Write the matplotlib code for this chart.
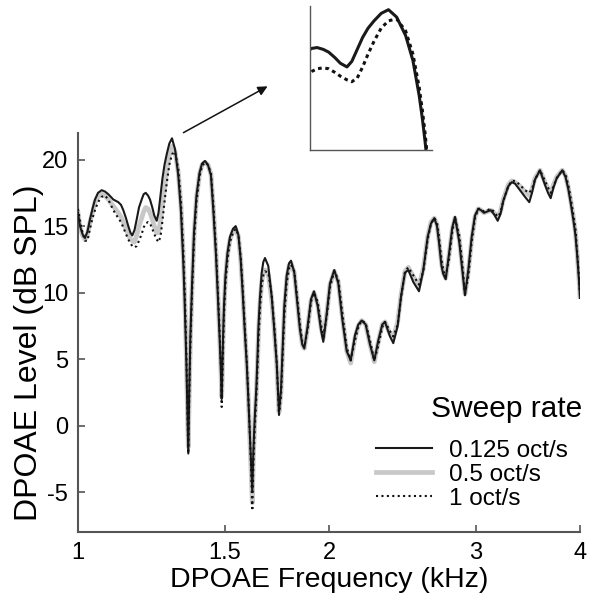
import matplotlib
matplotlib.use("Agg")
import matplotlib.pyplot as plt
from matplotlib.ticker import FixedLocator, NullLocator

plt.rcParams['font.family'] = ['Liberation Sans', 'DejaVu Sans']

# frecuencia DPOAE (kHz), misma rejilla para las tres curvas
freq_khz = [
    1.000, 1.0055, 1.0125, 1.0195, 1.0266, 1.0337, 1.0409, 1.0481, 1.0568, 1.0676,
    1.0774, 1.0873, 1.1024, 1.1177, 1.1261, 1.1333, 1.1417, 1.1490, 1.1560, 1.1618,
    1.1689, 1.1760, 1.1835, 1.1923, 1.1989, 1.2056, 1.2133, 1.2200, 1.2278, 1.2345,
    1.2428, 1.2490, 1.2559, 1.2628, 1.2698, 1.2776, 1.2868, 1.2964, 1.3072, 1.3192,
    1.3290, 1.3375, 1.3420, 1.3457, 1.3490, 1.3516, 1.3542, 1.3561, 1.3595, 1.3636,
    1.3700, 1.3776, 1.3871, 1.3987, 1.4084, 1.4201, 1.4319, 1.4438, 1.4538, 1.4639,
    1.4720, 1.4789, 1.4843, 1.4871, 1.4896, 1.4925, 1.4966, 1.5028, 1.5111, 1.5216,
    1.5342, 1.5457, 1.5577, 1.5672, 1.5759, 1.5847, 1.5935, 1.6005, 1.6067, 1.6125,
    1.6183, 1.6228, 1.6291, 1.6363, 1.6417, 1.6462, 1.6531, 1.6608, 1.6682, 1.6760,
    1.6914, 1.7073, 1.7196, 1.7311, 1.7387, 1.7421, 1.7518, 1.7600, 1.7678, 1.7795,
    1.7909, 1.8008, 1.8173, 1.8294, 1.8461, 1.8579, 1.8682, 1.8858, 1.9031, 1.9189,
    1.9386, 1.9563, 1.9688, 1.9874, 2.0056, 2.0295, 2.0521, 2.0749, 2.1002, 2.1236,
    2.1489, 2.1686, 2.1891, 2.2134, 2.2398, 2.2666, 2.2917, 2.3172, 2.3345, 2.3670,
    2.3886, 2.4178, 2.4400, 2.4671, 2.4897, 2.5243, 2.5643, 2.5950, 2.6267, 2.6508,
    2.6750, 2.6950, 2.7100, 2.7287, 2.7423, 2.7606, 2.7858, 2.8114, 2.8324, 2.8662,
    2.8901, 2.9117, 2.9384, 2.9661, 2.9932, 3.0206, 3.0432, 3.0685, 3.0983, 3.1258,
    3.1544, 3.1868, 3.2115, 3.2365, 3.2815, 3.3124, 3.3428, 3.3892, 3.4364, 3.4774,
    3.5035, 3.5326, 3.5817, 3.6315, 3.6617, 3.6891, 3.7177, 3.7507, 3.8092, 3.8430,
    3.8728, 3.9018, 3.9267, 3.9506, 3.9703, 3.9890, 4.000,
]

# nivel (dB SPL) a 0.125 oct/s
nivel_0125 = [
    16.0, 15.0, 14.4, 14.1, 14.6, 15.5, 16.3, 17.0, 17.5, 17.7,
    17.6, 17.4, 17.0, 16.8, 16.6, 16.2, 15.6, 15.0, 14.5, 14.3,
    14.7, 15.5, 16.4, 17.0, 17.4, 17.5, 17.3, 17.0, 16.4, 15.8,
    15.4, 16.0, 17.3, 18.6, 19.6, 20.4, 21.2, 21.6, 20.8, 18.8,
    16.1, 12.3, 9.7, 7.2, 4.7, 2.1, -0.4, -2.1, 2.5, 6.5,
    10.5, 14.5, 17.3, 19.0, 19.7, 19.9, 19.6, 18.8, 16.0, 12.8,
    9.5, 6.5, 3.8, 2.0, 4.0, 6.5, 9.0, 11.3, 13.0, 14.2,
    14.8, 15.0, 14.3, 12.5, 10.0, 7.2, 4.7, 2.1, -0.4, -2.9,
    -5.0, -2.0, 0.5, 2.8, 5.2, 7.5, 9.7, 11.5, 12.3, 12.6,
    12.0, 9.7, 7.2, 4.7, 2.1, 1.0, 2.7, 6.0, 9.0, 11.3,
    12.2, 12.4, 11.5, 9.7, 7.2, 6.1, 5.8, 7.5, 9.5, 10.1,
    9.0, 7.2, 6.3, 8.4, 10.7, 11.7, 10.7, 8.0, 5.6, 4.9,
    6.8, 7.6, 7.9, 7.6, 6.1, 4.9, 6.4, 7.6, 7.8, 6.7,
    6.2, 7.5, 9.7, 11.5, 11.7, 10.8, 10.1, 11.7, 14.2, 15.2,
    15.6, 15.0, 13.8, 12.0, 11.4, 11.0, 12.9, 14.9, 15.7, 13.8,
    11.7, 9.8, 11.7, 14.2, 15.8, 16.3, 16.2, 16.0, 16.1, 16.2,
    15.9, 15.4, 15.9, 16.9, 18.0, 18.3, 18.2, 17.7, 17.2, 16.8,
    17.5, 18.5, 19.2, 18.1, 17.5, 17.1, 17.9, 18.6, 19.2, 18.7,
    17.8, 16.6, 15.5, 14.3, 12.7, 10.9, 9.6,
]

# nivel (dB SPL) a 0.5 oct/s
nivel_05 = [
    16.0, 15.0, 14.3, 14.0, 14.4, 15.3, 16.0, 16.8, 17.2, 17.4,
    17.3, 17.0, 16.5, 16.0, 15.7, 15.3, 14.8, 14.4, 14.0, 13.9,
    13.8, 14.3, 15.0, 15.6, 16.1, 16.4, 16.3, 16.0, 15.5, 15.0,
    14.5, 14.5, 15.4, 16.6, 17.8, 19.1, 20.3, 21.0, 20.6, 19.0,
    16.5, 12.7, 10.1, 7.6, 5.0, 2.4, 0.0, -1.6, 2.2, 6.2,
    10.2, 14.2, 17.1, 18.9, 19.6, 19.8, 19.6, 18.9, 16.2, 13.0,
    9.7, 6.7, 4.0, 2.2, 3.8, 6.3, 8.8, 11.1, 12.8, 14.0,
    14.6, 14.8, 14.2, 12.5, 10.1, 7.3, 4.7, 2.0, -0.6, -3.3,
    -5.8, -2.5, 0.2, 2.5, 4.8, 7.0, 9.2, 10.8, 11.5, 11.7,
    11.4, 9.5, 7.2, 4.6, 2.0, 1.0, 2.5, 5.7, 8.6, 11.0,
    12.0, 12.2, 11.5, 9.8, 7.3, 6.1, 5.8, 7.4, 9.4, 10.0,
    9.1, 7.4, 6.6, 8.4, 10.6, 11.6, 10.8, 8.2, 5.6, 4.7,
    6.6, 7.5, 7.9, 7.6, 6.1, 4.8, 6.3, 7.6, 7.8, 6.9,
    6.6, 7.8, 9.8, 11.6, 11.9, 11.2, 10.5, 11.8, 14.2, 15.3,
    15.6, 15.1, 13.9, 12.2, 11.5, 11.1, 12.8, 14.8, 15.6, 14.0,
    11.9, 9.9, 11.6, 14.0, 15.7, 16.3, 16.2, 16.0, 16.1, 16.2,
    16.0, 15.7, 16.1, 17.0, 18.1, 18.4, 18.3, 18.0, 17.6, 17.3,
    17.8, 18.6, 19.2, 18.3, 17.8, 17.5, 18.1, 18.7, 19.2, 18.8,
    17.9, 16.8, 15.7, 14.5, 12.8, 11.0, 9.7,
]

# nivel (dB SPL) a 1 oct/s
nivel_1 = [
    16.3, 15.4, 14.5, 13.9, 13.9, 14.8, 15.6, 16.2, 16.8, 17.2,
    17.3, 17.0, 16.2, 15.6, 15.3, 14.9, 14.4, 14.0, 13.7, 13.5,
    13.4, 13.5, 13.9, 14.4, 14.9, 15.2, 15.3, 15.2, 14.8, 14.4,
    14.0, 13.8, 14.2, 15.4, 16.8, 18.2, 19.6, 20.4, 20.6, 19.3,
    16.8, 13.2, 10.6, 8.1, 5.4, 2.8, 0.3, -2.1, 1.8, 5.8,
    9.8, 13.8, 16.8, 18.7, 19.5, 19.8, 19.6, 19.0, 16.5, 13.3,
    10.0, 7.0, 4.3, 1.4, 3.3, 5.8, 8.3, 10.7, 12.5, 13.8,
    14.5, 14.8, 14.3, 12.7, 10.4, 7.6, 5.0, 2.3, -0.3, -3.0,
    -6.4, -3.2, -0.3, 2.0, 4.3, 6.5, 8.8, 10.5, 11.3, 11.6,
    11.5, 9.8, 7.5, 4.8, 2.0, 0.8, 2.2, 5.3, 8.2, 10.7,
    11.8, 12.1, 11.6, 10.0, 7.6, 6.3, 5.9, 7.2, 9.3, 10.0,
    9.3, 7.6, 6.7, 8.2, 10.4, 11.6, 11.0, 8.5, 5.9, 4.9,
    6.4, 7.4, 7.9, 7.7, 6.4, 4.9, 6.0, 7.4, 7.8, 7.1,
    6.7, 7.6, 9.6, 11.6, 11.9, 11.3, 10.6, 11.6, 14.0, 15.2,
    15.6, 15.3, 14.2, 12.5, 11.7, 11.2, 12.5, 14.6, 15.6, 14.3,
    12.2, 9.9, 11.2, 13.8, 15.6, 16.3, 16.3, 16.1, 16.2, 16.3,
    16.1, 15.7, 16.0, 16.9, 18.0, 18.4, 18.4, 18.1, 17.7, 17.5,
    17.8, 18.5, 19.2, 18.4, 17.9, 17.5, 18.0, 18.6, 19.2, 18.9,
    18.1, 17.0, 15.9, 14.8, 13.0, 11.2, 9.8,
]

etiquetas = ['0.125 oct/s', '0.5 oct/s', '1 oct/s']
xticks = [1, 1.5, 2, 3, 4]
xtick_labels = ['1', '1.5', '2', '3', '4']
yticks = [-5, 0, 5, 10, 15, 20]
ytick_labels = ['-5', '0', '5', '10', '15', '20']

gris_eje = '#555555'

fig = plt.figure(figsize=(5.89, 6.01), dpi=100)
ax = fig.add_axes([0.1324, 0.1148, 0.8523, 0.6639])

l05, = ax.plot(freq_khz, nivel_05, color='#c8c8c8', lw=3.4, zorder=2)
l0125, = ax.plot(freq_khz, nivel_0125, color='#1a1a1a', lw=1.5, zorder=3)
l1, = ax.plot(freq_khz, nivel_1, color='#111111', lw=1.5, linestyle=(0, (1, 1.6)),
              zorder=4)

ax.set_xscale('log')
ax.set_xlim(1, 4)
ax.set_ylim(-8, 22)
ax.xaxis.set_major_locator(FixedLocator(xticks))
ax.xaxis.set_minor_locator(NullLocator())
ax.set_xticklabels(xtick_labels)
ax.set_yticks(yticks)
ax.set_yticklabels(ytick_labels)

for s in ['top', 'right']:
    ax.spines[s].set_visible(False)
for s in ['left', 'bottom']:
    ax.spines[s].set_color(gris_eje)
    ax.spines[s].set_linewidth(1.5)
ax.tick_params(direction='in', length=5, width=1.2, color=gris_eje,
               labelsize=17, pad=7)

ax.set_xlabel('DPOAE Frequency (kHz)', fontsize=20.5, labelpad=2)
ax.set_ylabel('DPOAE Level (dB SPL)', fontsize=23)
ax.yaxis.set_label_coords(-0.068, 0.45)

ax.legend([l0125, l05, l1], etiquetas, fontsize=17.5,
          frameon=False, loc='lower right', bbox_to_anchor=(1.0, 0.025),
          borderpad=0, labelspacing=0.08, handlelength=2.3,
          handletextpad=0.7)
ax.text(1.005, 0.3075, 'Sweep rate', transform=ax.transAxes, fontsize=21.5,
        ha='right', va='center')

# recuadro ampliado del pico cerca de 1.3 kHz
axi = fig.add_axes([0.5263, 0.7504, 0.2071, 0.2396])
axi.plot(freq_khz, nivel_0125, color='#1a1a1a', lw=2.2)
axi.plot(freq_khz, nivel_1, color='#111111', lw=2.2, linestyle=(0, (1.2, 1.2)))
axi.set_xscale('log')
axi.set_xlim(1.197, 1.355)
axi.set_ylim(6.4, 22.0)
axi.set_xticks([])
axi.set_yticks([])
axi.xaxis.set_minor_locator(NullLocator())
for s in ['top', 'right']:
    axi.spines[s].set_visible(False)
for s in ['left', 'bottom']:
    axi.spines[s].set_color(gris_eje)
    axi.spines[s].set_linewidth(1.0)

fig.add_artist(matplotlib.patches.FancyArrowPatch(
    (181 / 589, 1 - 134 / 601), (270 / 589, 1 - 85 / 601),
    transform=fig.transFigure, arrowstyle='-|>', mutation_scale=14,
    color='#111111', lw=1.1))

fig.savefig('out.png', dpi=100)
